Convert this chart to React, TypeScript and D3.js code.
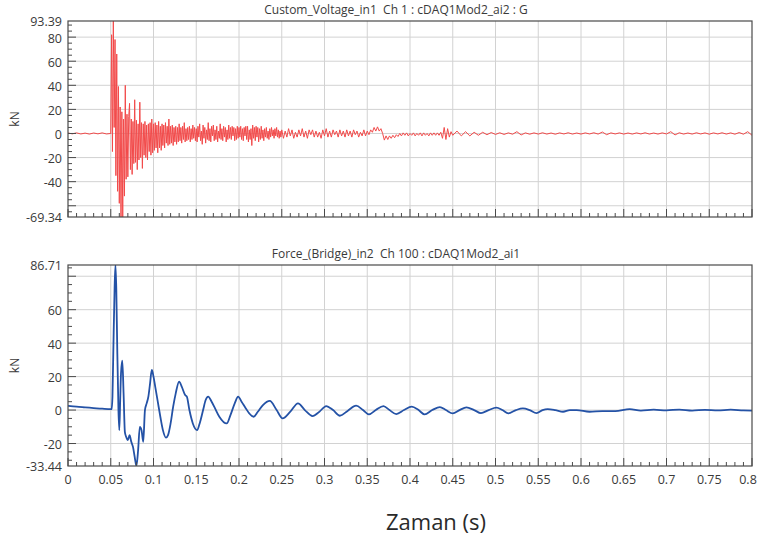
import React from 'react';
import * as d3 from 'd3';

// ---------- DATA ----------
const xTickValues = [0, 0.05, 0.1, 0.15, 0.2, 0.25, 0.3, 0.35, 0.4, 0.45, 0.5, 0.55, 0.6, 0.65, 0.7, 0.75, 0.8];
const xTickLabels = ['0', '0.05', '0.1', '0.15', '0.2', '0.25', '0.3', '0.35', '0.4', '0.45', '0.5', '0.55', '0.6', '0.65', '0.7', '0.75', '0.8'];

const topTitle = 'Custom_Voltage_in1  Ch 1 : cDAQ1Mod2_ai2 : G';
const bottomTitle = 'Force_(Bridge)_in2  Ch 100 : cDAQ1Mod2_ai1';
const yUnit = 'kN';
const xTitle = 'Zaman (s)';

const topDomain = [-69.34, 93.39];
const topGrid = [-60, -40, -20, 0, 20, 40, 60, 80];
const topYLabels = [93.39, 80, 60, 40, 20, 0, -20, -40, -69.34];

const bottomDomain = [-33.44, 86.71];
const bottomGrid = [-20, 0, 20, 40, 60, 80];
const bottomYLabels = [86.71, 60, 40, 20, 0, -20, -33.44];

// Red channel (Custom_Voltage_in1), segments with fixed time step
const redPre = [0.4, -0.3, 0.5, -0.4, 0.3, -0.5, 0.4, -0.3, 0.5, -0.4, 0]; // 0 .. 0.05 step 0.005
const redBurst = [ // 0.050 .. 0.149 step 0.001
  0, 82, -15, 93.39, 5, 78, -35, 66, -48, 39,
  -58, 22, -69.34, 18, -69.34, 12, -52, 40, -38, 16,
  -36, 14, 25, -30, 12, -34, 10, -25, 28, -24,
  11, -30, 8, -22, 26, -20, 9, -29, 8, -18,
  10, -20, 7, -22, 8, -15, 9, -18, 12, -16,
  8, -14, 9, -12, 7, -16, 10, -12, 6, -14,
  8, -10, 7, -12, 9, -8, 6, -10, 12, -9,
  6, -8, 7, -10, 5, -7, 6, -9, 5, -7,
  8, -6, 5, -8, 6, -5, 9, -7, 4, -6,
  5, -5, 6, -7, 4, -5, 7, -4, 5, -6,
];
const redMidA = [ // 0.150 .. 0.249 step 0.001
  4, -7, 6, -3, 8, -6, 2, -9, 7, -4,
  5, -8, 3, -5, 9, -6, 4, -7, 6, -2,
  7, -6, 3, -5, 6, -7, 2, -4, 8, -5,
  4, -6, 6, -3, 5, -7, 3, -5, 7, -4,
  5, -5, 6, -2, 5, -6, 4, -5, 6, -4,
  5, -3, 6, -5, 4, -6, 5, -2, 6, -5,
  6, -7, 3, -5, 4, -10, 7, -4, 5, -6,
  6, -3, 5, -7, 4, -5, 6, -4, 3, -6,
  4, -3, 5, -4, 2, -5, 4, -3, 5, -2,
  3, -4, 4, -2, 5, -3, 3, -4, 2, -3,
];
const redMidB = [ // 0.250 .. 0.450 step 0.002
  3, -4, 2, -3, 4, -2, 3, -4, 1, -3,
  3, -2, 4, -3, 2, -4, 3, -1, 3, -3,
  2, -3, 1, -4, 3, -2, 4, -3, 2, -3,
  3, -1, 2, -3, 3, -2, 2, -3, 3, -2,
  2, -3, 3, -1, 2, -3, 1, -2, 3, -2,
  2, -1, 3, 1, 5, 2, 5.5, 2, 4, 0,
  -5.5, -2, -5, -2, -4, -1.5, -3.5, -1, -2.5, 0,
  -2, 0.5, -1.5, 0.5, -2, 0, -1.5, 0.5, -2, 0,
  -1.5, 0.5, -2, 0.5, -1.5, 0, -2, 0.5, -1.5, 0.5,
  -1.5, 0.5, -1.5, 1, -4, 5, -5, 4, -3, 1.5,
  -1.5,
];
const redTail = [ // 0.455 .. 0.800 step 0.005
  2, -2, 1.5, -2, 1, -1.5, 1, -1, 0.8, -0.8,
  0.6, -0.8, 0.5, -0.6, 1.5, -1.2, 0.5, -0.6, 0.5, -0.5,
  0.6, -0.5, 0.4, -0.6, 0.5, -0.4, 0.6, -0.5, 0.4, -0.5,
  0.5, -0.4, 0.6, -0.5, 1.2, -1, 0.5, -0.4, 0.5, -0.5,
  0.4, -0.5, 0.5, -0.4, 0.6, -0.5, 0.4, -0.5, 0.5, -0.4,
  1.5, -1.2, 0.6, -0.5, 0.4, -0.5, 0.6, -0.4, 0.5, -0.6,
  0.5, -0.4, 0.6, -0.5, 0.5, -0.6, 0.8, -0.6, 1.5, -1.5,
];

// Blue channel (Force_(Bridge)_in2)
const blueT = [
  0, 0.01, 0.02, 0.03, 0.04, 0.05, 0.051, 0.052, 0.053, 0.0545,
  0.0555, 0.0565, 0.0575, 0.059, 0.06, 0.061, 0.062, 0.0635, 0.065, 0.0665,
  0.068, 0.07, 0.072, 0.074, 0.076, 0.078, 0.08, 0.082, 0.084, 0.086,
  0.088, 0.09, 0.092, 0.094, 0.096, 0.098, 0.1, 0.102, 0.105, 0.108,
  0.111, 0.1146, 0.117, 0.12, 0.123, 0.126, 0.13, 0.133, 0.137, 0.139,
  0.142, 0.146, 0.151, 0.154, 0.158, 0.161, 0.164, 0.168, 0.172, 0.177,
  0.1856, 0.19, 0.195, 0.199, 0.203, 0.208, 0.212, 0.217, 0.222, 0.228,
  0.236, 0.244, 0.251, 0.26, 0.269, 0.277, 0.286, 0.294, 0.302, 0.31,
  0.318, 0.327, 0.337, 0.345, 0.352, 0.36, 0.369, 0.376, 0.384, 0.393,
  0.402, 0.41, 0.417, 0.426, 0.435, 0.442, 0.45, 0.458, 0.466, 0.475,
  0.483, 0.492, 0.501, 0.508, 0.515, 0.524, 0.532, 0.54, 0.548, 0.555,
  0.561, 0.57, 0.579, 0.587, 0.595, 0.61, 0.625, 0.64, 0.657, 0.67,
  0.685, 0.7, 0.715, 0.73, 0.745, 0.76, 0.775, 0.79, 0.8,
];
const blueV = [
  2.5, 2.0, 1.6, 1.2, 0.8, 0.5, 0.6, 8, 35, 73,
  86.71, 72, 40, 0, -12, 5, 22, 29.5, 10, -13,
  -16, -18, -15, -19, -22, -28, -33.44, -24, -10, -12,
  -19, 0, 4, 8, 16, 24, 20, 14, 5, -4,
  -12, -16.5, -15, -8, 2, 10, 17, 14, 9, 8,
  0, -8, -12, -8, 0, 6, 8, 5, 1, -4,
  -8, -3, 4, 8, 5, 1, -2, -4, -1, 3,
  5.5, 0, -5, -1, 4, 0, -3.6, -1, 2.4, 0,
  -3.4, -0.5, 2.6, 0, -2.6, 0, 2.4, 0, -2.4, 0,
  2, 0, -2.6, 0, 1.8, 0, -2, 0, 1.6, 0,
  -1.8, 0, 1.4, 0, -2, 0, 1, 0, -1.8, 0,
  0.6, 0, -1, 0, 0, -1, -0.6, -0.6, 0.6, -0.3,
  0.2, -0.2, 0.3, -0.3, 0.1, -0.2, 0.2, -0.2, -0.3,
];

// ---------- BUILD ----------
const W = 759;
const H = 539;
const plotLeft = 68;
const plotRight = 752;
const FONT = "'Open Sans', 'DejaVu Sans', sans-serif";
const TEXT = '#3a3a3a';

const seg = (start: number, step: number, vals: number[]) =>
  vals.map((v, i) => [start + i * step, v] as [number, number]);

const redData: [number, number][] = [
  ...seg(0, 0.005, redPre),
  ...seg(0.05, 0.001, redBurst),
  ...seg(0.15, 0.001, redMidA),
  ...seg(0.25, 0.002, redMidB),
  ...seg(0.455, 0.005, redTail),
];
const blueData: [number, number][] = blueT.map((t, i) => [t, blueV[i]]);

const x = d3.scaleLinear().domain([0, 0.8]).range([plotLeft, plotRight]);
const minorX = d3.range(0, 81).map((i) => i / 100);

type PanelProps = {
  id: string;
  y0: number;
  y1: number;
  domain: number[];
  grid: number[];
  labels: number[];
  data: [number, number][];
  color: string;
  width: number;
  title: string;
  showXLabels: boolean;
  smooth: boolean;
};

function Panel({ id, y0, y1, domain, grid, labels, data, color, width, title, showXLabels, smooth }: PanelProps) {
  const y = d3.scaleLinear().domain(domain).range([y1, y0]);
  const minorY = d3.range(Math.ceil(domain[0] / 5) * 5, domain[1], 5);
  const line = d3
    .line<[number, number]>()
    .x((d) => x(d[0]))
    .y((d) => y(d[1]))
    .curve(smooth ? d3.curveMonotoneX : d3.curveLinear);
  const vGrid = xTickValues.slice(1, -1);
  return (
    <g>
      <defs>
        <clipPath id={id}>
          <rect x={plotLeft} y={y0} width={plotRight - plotLeft} height={y1 - y0} />
        </clipPath>
      </defs>
      <text x={396} y={y0 - 7} textAnchor="middle" fontSize={12} fill={TEXT} fontFamily={FONT} style={{ whiteSpace: 'pre' }}>
        {title}
      </text>
      {grid.map((g) => (
        <line key={'h' + g} x1={plotLeft} x2={plotRight} y1={y(g)} y2={y(g)} stroke="#d2d2d2" strokeWidth={1} />
      ))}
      {vGrid.map((g) => (
        <line key={'v' + g} x1={x(g)} x2={x(g)} y1={y0} y2={y1} stroke="#d2d2d2" strokeWidth={1} />
      ))}
      <path d={line(data) || ''} fill="none" stroke={color} strokeWidth={width} clipPath={`url(#${id})`} strokeLinejoin="round" />
      <rect x={plotLeft} y={y0} width={plotRight - plotLeft} height={y1 - y0} fill="none" stroke="#4a4a4a" strokeWidth={1.2} />
      {minorX.map((t, i) => (
        <line key={'xt' + i} x1={x(t)} x2={x(t)} y1={y1} y2={y1 - (i % 5 === 0 ? 8 : 4)} stroke="#4a4a4a" strokeWidth={1} />
      ))}
      {minorY.map((v) => (
        <line key={'yt' + v} x1={plotLeft} x2={plotLeft + (v % 20 === 0 ? 8 : 4)} y1={y(v)} y2={y(v)} stroke="#4a4a4a" strokeWidth={1} />
      ))}
      {labels.map((v) => (
        <text key={'yl' + v} x={plotLeft - 6} y={y(v) + 1} dy="0.35em" textAnchor="end" fontSize={12.5} fill={TEXT} fontFamily={FONT}>
          {String(v)}
        </text>
      ))}
      <text
        transform={`translate(15,${(y0 + y1) / 2}) rotate(-90)`}
        textAnchor="middle"
        dy="0.35em"
        fontSize={12}
        fill={TEXT}
        fontFamily={FONT}
      >
        {yUnit}
      </text>
      {showXLabels &&
        xTickValues.map((t, i) => (
          <text
            key={'xl' + i}
            x={Math.min(x(t), W - 11)}
            y={y1 + 14}
            dy="0.35em"
            textAnchor="middle"
            fontSize={12.5}
            fill={TEXT}
            fontFamily={FONT}
          >
            {xTickLabels[i]}
          </text>
        ))}
    </g>
  );
}

export default function App() {
  return (
    <svg width={W} height={H} style={{ position: 'absolute', left: 0, top: 0, background: '#fff' }}>
      <rect x={0} y={0} width={W} height={H} fill="#fff" />
      <Panel id="clipTop" y0={21} y1={217} domain={topDomain} grid={topGrid} labels={topYLabels} data={redData} color="#f24a4a" width={1} title={topTitle} showXLabels={false} smooth={false} />
      <Panel id="clipBot" y0={265} y1={466} domain={bottomDomain} grid={bottomGrid} labels={bottomYLabels} data={blueData} color="#2452a6" width={1.8} title={bottomTitle} showXLabels={true} smooth={true} />
      <text x={436} y={530} textAnchor="middle" fontSize={22} fill="#2a2a2a" fontFamily={FONT}>
        {xTitle}
      </text>
    </svg>
  );
}
